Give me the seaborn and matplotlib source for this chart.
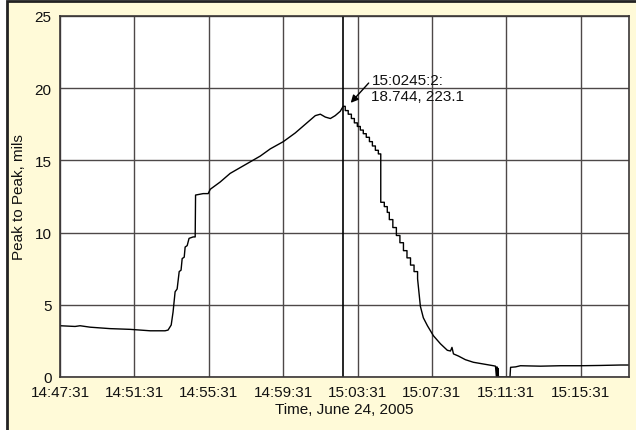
import pandas as pd
import numpy as np
import matplotlib.pyplot as plt
import matplotlib.dates as mdates
import matplotlib.patches as mpatches
import seaborn as sns

# minutes after 14:47:31 and peak-to-peak amplitude (mils)
minutes = [0, 0.81, 1.08, 1.62, 2.69, 3.77, 4.31, 4.85, 5.65, 5.81,
           5.98, 6.08, 6.19, 6.30, 6.41, 6.51, 6.57, 6.68, 6.73, 6.84,
           6.94, 7.16, 7.27, 7.29, 7.70, 7.97, 8.08, 8.61, 9.15, 9.69,
           10.23, 10.77, 11.31, 12.01, 12.65, 13.19, 13.73, 14.00, 14.27, 14.54,
           14.80, 15.07, 15.23,
           15.34, 15.34, 15.50, 15.50, 15.67, 15.67, 15.83, 15.83, 15.99, 15.99,
           16.15, 16.15, 16.31, 16.31, 16.47, 16.47, 16.64, 16.64, 16.80, 16.80,
           16.96, 16.96, 17.12, 17.12, 17.25, 17.25, 17.44, 17.44, 17.60, 17.60,
           17.71, 17.71, 17.90, 17.90, 18.09, 18.09, 18.28, 18.28, 18.47, 18.47,
           18.66, 18.66, 18.85, 18.85, 19.04, 19.04, 19.23, 19.23,
           19.38, 19.54, 19.76, 20.08, 20.46, 20.83, 21.00, 21.08, 21.16,
           21.43, 21.80, 22.23, 22.77, 23.31, 23.42, 23.47, 23.50, 23.53, 23.55,
           23.58, 24.20, 24.23, 24.50, 24.76, 25.84, 26.92, 27.99, 29.07, 30.15,
           30.58]
amplitude = [3.55, 3.5, 3.55, 3.45, 3.35, 3.3, 3.25, 3.2, 3.2, 3.25,
             3.6, 4.5, 5.9, 6.1, 7.3, 7.4, 8.2, 8.3, 9.0, 9.1,
             9.6, 9.7, 9.7, 12.6, 12.7, 12.7, 13.0, 13.5, 14.1, 14.5,
             14.9, 15.3, 15.8, 16.3, 16.9, 17.5, 18.1, 18.2, 18.0, 17.9,
             18.1, 18.4, 18.744,
             18.744, 18.45, 18.45, 18.2, 18.2, 17.9, 17.9, 17.6, 17.6, 17.35,
             17.35, 17.1, 17.1, 16.85, 16.85, 16.6, 16.6, 16.3, 16.3, 16.0,
             16.0, 15.7, 15.7, 15.45, 15.45, 12.1, 12.1, 11.8, 11.8, 11.4,
             11.4, 10.9, 10.9, 10.35, 10.35, 9.8, 9.8, 9.3, 9.3, 8.75,
             8.75, 8.25, 8.25, 7.75, 7.75, 7.3, 7.3, 6.8,
             4.9, 4.1, 3.55, 2.86, 2.3, 1.85, 1.8, 2.05, 1.6,
             1.45, 1.2, 1.02, 0.9, 0.78, 0.75, 0.0, 0.7, 0.0, 0.6,
             0.0, 0.0, 0.67, 0.7, 0.78, 0.75, 0.78, 0.78, 0.8, 0.83,
             0.83]

start = pd.Timestamp('2005-06-24 14:47:31')
tick_labels = ['14:47:31', '14:51:31', '14:55:31', '14:59:31',
               '15:03:31', '15:07:31', '15:11:31', '15:15:31']
cursor_time = '15:02:45'
cursor_value = 18.744
cursor_text = '15:0245:2:\n18.744, 223.1'

df = pd.DataFrame({'time': start + pd.to_timedelta(minutes, unit='min'),
                   'amp': amplitude})

sns.set_style('white')
plt.rcParams['font.family'] = ['Liberation Sans', 'DejaVu Sans']

bg = '#fffad8'
fig = plt.figure(figsize=(6.36, 4.31), dpi=100)
fig.patch.set_facecolor('white')
# cream panel with a dark frame on the left and top only (cropped on the other sides)
panel = mpatches.Rectangle((7 / 636, -0.05), 1.1, 1 - 1.5 / 431 + 0.05,
                           transform=fig.transFigure, facecolor=bg,
                           edgecolor='#222222', lw=2, zorder=-5)
fig.patches.append(panel)

ax = fig.add_axes([60 / 636, 53 / 431, 569 / 636, 361 / 431])
ax.set_facecolor('white')

sns.lineplot(data=df, x='time', y='amp', color='black', lw=1.0,
             estimator=None, sort=False, ax=ax)

ticks = [pd.Timestamp('2005-06-24 ' + t) for t in tick_labels]
ax.set_xticks(ticks)
ax.xaxis.set_major_formatter(mdates.DateFormatter('%H:%M:%S'))
ax.set_xlim(start, start + pd.Timedelta(minutes=30.6))
ax.set_ylim(0, 25)
ax.set_yticks([0, 5, 10, 15, 20, 25])

ax.grid(True, color='#4d4848', lw=1)
for s in ax.spines.values():
    s.set_color('#3a3636')
    s.set_linewidth(1.2)
ax.tick_params(axis='both', direction='out', length=4, width=1,
               color='#3a3636', labelsize=11, pad=2, labelcolor='#111111')

ct = pd.Timestamp('2005-06-24 ' + cursor_time)
ax.axvline(ct, color='black', lw=1.2)
ax.annotate('', xy=(mdates.date2num(ct) + 0.3 / 1440, cursor_value + 0.1),
            xytext=(mdates.date2num(start) + 16.7 / 1440, 20.5),
            arrowprops=dict(arrowstyle='-|>', color='black', lw=1,
                            mutation_scale=11))
ax.text(start + pd.Timedelta(minutes=16.75), 21.05, cursor_text,
        fontsize=11, va='top', ha='left', linespacing=1.15, color='#111111')

ax.set_xlabel('Time, June 24, 2005', fontsize=11, labelpad=2, color='#111111')
ax.set_ylabel('Peak to Peak, mils', fontsize=11, labelpad=6, color='#111111')

fig.savefig('out.png', dpi=100, facecolor='white')
